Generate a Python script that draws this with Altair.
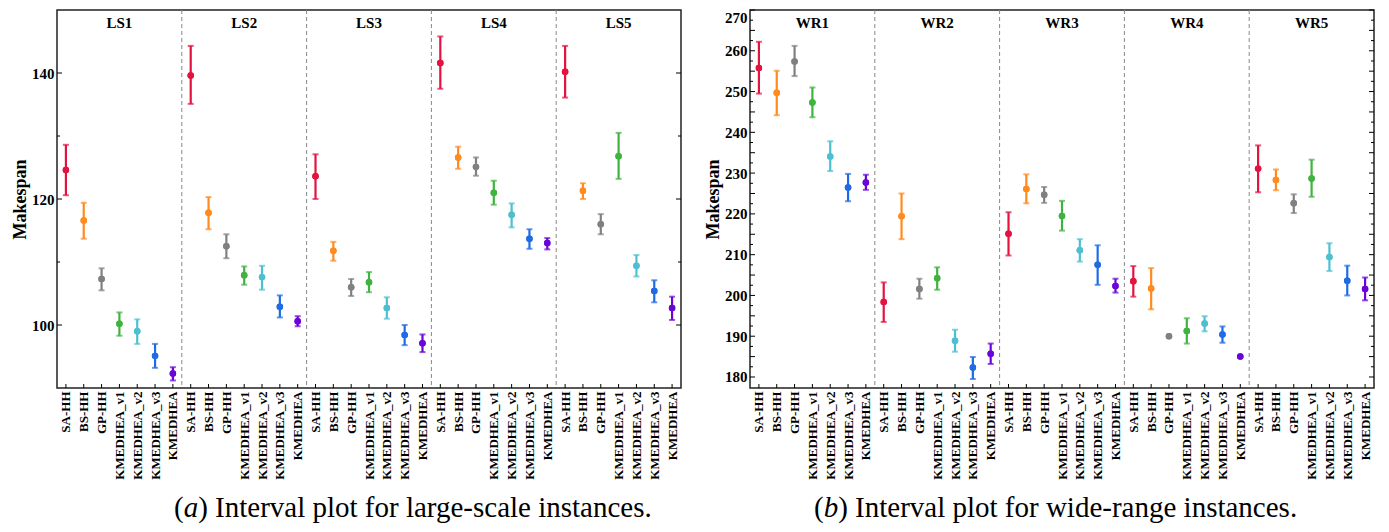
import altair as alt
import pandas as pd

methods = ["SA-HH", "BS-HH", "GP-HH", "KMEDHEA_v1", "KMEDHEA_v2", "KMEDHEA_v3", "KMEDHEA"]
colors = ["#e3123f", "#ff8a1e", "#808080", "#3fb33f", "#4cc0d0", "#1f6be6", "#6a05d8"]

ls_groups = ["LS1", "LS2", "LS3", "LS4", "LS5"]
ls_mean = [
    [124.6, 116.6, 107.3, 100.2, 99.0, 95.1, 92.3],
    [139.6, 117.8, 112.5, 107.9, 107.6, 102.9, 100.6],
    [123.6, 111.8, 106.0, 106.8, 102.7, 98.4, 97.1],
    [141.6, 126.6, 125.1, 121.0, 117.5, 113.7, 113.0],
    [140.2, 121.3, 116.0, 126.8, 109.4, 105.4, 102.7],
]
ls_low = [
    [120.6, 113.7, 105.5, 98.3, 97.0, 93.2, 91.2],
    [135.1, 115.2, 110.6, 106.4, 105.6, 101.2, 99.8],
    [120.0, 110.2, 104.6, 105.2, 101.0, 96.8, 95.7],
    [137.5, 124.8, 123.7, 119.1, 115.5, 112.1, 112.0],
    [136.1, 120.0, 114.4, 123.2, 107.7, 103.6, 100.8],
]
ls_high = [
    [128.6, 119.4, 109.0, 102.0, 100.9, 97.0, 93.3],
    [144.3, 120.3, 114.4, 109.3, 109.4, 104.7, 101.4],
    [127.1, 113.2, 107.3, 108.4, 104.4, 100.0, 98.5],
    [145.8, 128.3, 126.6, 122.9, 119.3, 115.2, 113.8],
    [144.3, 122.5, 117.6, 130.5, 111.1, 107.1, 104.5],
]

wr_groups = ["WR1", "WR2", "WR3", "WR4", "WR5"]
wr_mean = [
    [255.8, 249.7, 257.4, 247.3, 234.1, 226.5, 227.7],
    [198.4, 219.4, 201.6, 204.2, 188.9, 182.3, 185.7],
    [215.1, 226.1, 224.7, 219.5, 211.1, 207.5, 202.3],
    [203.5, 201.7, 190.0, 191.3, 193.1, 190.4, 185.0],
    [231.1, 228.3, 222.6, 228.7, 209.4, 203.6, 201.6],
]
wr_low = [
    [249.5, 244.2, 253.8, 243.7, 230.5, 223.1, 225.9],
    [193.5, 213.8, 199.2, 201.4, 186.2, 179.5, 183.2],
    [209.8, 222.6, 222.7, 215.9, 208.3, 202.6, 200.7],
    [199.7, 196.6, 190.0, 188.2, 191.2, 188.4, 185.0],
    [225.3, 225.8, 220.2, 224.2, 206.0, 200.0, 198.8],
]
wr_high = [
    [262.2, 255.1, 261.2, 251.0, 237.8, 229.8, 229.6],
    [203.2, 225.0, 204.1, 206.9, 191.6, 184.9, 188.2],
    [220.4, 229.7, 226.6, 223.2, 213.8, 212.3, 204.1],
    [207.2, 206.7, 190.0, 194.4, 194.9, 192.4, 185.0],
    [236.8, 230.9, 224.8, 233.3, 212.8, 207.3, 204.4],
]

ls_label_ticks = [100, 120, 140]
ls_major_ticks = [100, 120, 140]
ls_minor_ticks = [110, 130]
wr_label_ticks = [180, 185, 190, 195, 200, 205, 210, 215, 220, 225, 230, 235,
                  240, 245, 250, 255, 260, 265, 270]
wr_major_ticks = wr_label_ticks
wr_minor_ticks = [182.5, 187.5, 192.5, 197.5, 202.5, 207.5, 212.5, 217.5, 222.5,
                  227.5, 232.5, 237.5, 242.5, 247.5, 252.5, 257.5, 262.5, 267.5]

caption_a = ["(", "a", ") Interval plot for large-scale instances."]
caption_b = ["(", "b", ") Interval plot for wide-range instances."]

FONT = "Liberation Serif"
W, H = 624, 378
CAP_SIZE = 29
label_expr = "[" + ",".join("'%s'" % m for m in methods) + "][datum.value % 7]"


def panel(groups, mean, low, high, ydomain, label_vals, major, minor, caption, dx, flush):
    rows = []
    for g, gname in enumerate(groups):
        for m, meth in enumerate(methods):
            rows.append(dict(idx=g * 7 + m, group=gname, method=meth,
                             mean=mean[g][m], lo=low[g][m], hi=high[g][m]))
    df = pd.DataFrame(rows)
    xscale = alt.Scale(domain=[-0.5, 34.5], nice=False, zero=False)
    yscale = alt.Scale(domain=ydomain, nice=False, zero=False)
    cscale = alt.Scale(domain=methods, range=colors)

    xaxis = alt.Axis(values=list(range(35)), labelExpr=label_expr,
                     labelAngle=270, labelFont=FONT, labelFontSize=13,
                     labelFontWeight="bold", labelColor="black",
                     labelPadding=3, labelOverlap=False, ticks=False,
                     domain=False, grid=False)
    yaxis = alt.Axis(values=label_vals, ticks=False, domain=False, grid=False,
                     labelFont=FONT, labelFontSize=15, labelFontWeight="bold",
                     labelColor="black", labelPadding=3, labelFlush=flush,
                     titleFont=FONT, titleFontSize=18, titleFontWeight="bold",
                     titleColor="black", titlePadding=2)

    def X(f):
        return alt.X(f, scale=xscale, axis=xaxis, title=None)

    def Y(f):
        return alt.Y(f, scale=yscale, axis=yaxis, title="Makespan")

    base = alt.Chart(df)
    col = alt.Color("method:N", scale=cscale, legend=None)
    has_bar = "datum.hi > datum.lo"

    pts = base.mark_circle(size=42, opacity=1).encode(x=X("idx:Q"), y=Y("mean:Q"), color=col)
    bars = base.transform_filter(has_bar).mark_rule(strokeWidth=2.2).encode(
        x=X("idx:Q"), y=Y("lo:Q"), y2="hi:Q", color=col)
    cap_lo = base.transform_filter(has_bar).mark_tick(
        orient="horizontal", size=6, thickness=2).encode(x=X("idx:Q"), y=Y("lo:Q"), color=col)
    cap_hi = base.transform_filter(has_bar).mark_tick(
        orient="horizontal", size=6, thickness=2).encode(x=X("idx:Q"), y=Y("hi:Q"), color=col)

    seps = alt.Chart(pd.DataFrame({"sep": [6.5, 13.5, 20.5, 27.5]})).mark_rule(
        color="#888888", strokeWidth=1, strokeDash=[4, 3]).encode(x=X("sep:Q"))
    glabels = alt.Chart(pd.DataFrame({"gx": [3, 10, 17, 24, 31], "gname": groups})).mark_text(
        font=FONT, fontSize=15, fontWeight="bold", color="black", baseline="middle").encode(
        x=X("gx:Q"), y=alt.value(13), text="gname:N")

    tmaj = pd.DataFrame({"t": major})
    tmin = pd.DataFrame({"t": minor})
    tick_layers = []
    for tdf, ln in ((tmaj, 5), (tmin, 3)):
        tick_layers.append(alt.Chart(tdf).mark_rule(color="black", strokeWidth=1).encode(
            y=Y("t:Q"), x=alt.value(0), x2=alt.value(ln)))
        tick_layers.append(alt.Chart(tdf).mark_rule(color="black", strokeWidth=1).encode(
            y=Y("t:Q"), x=alt.value(W), x2=alt.value(W - ln)))
    bt = alt.Chart(pd.DataFrame({"b": list(range(35))})).mark_rule(
        color="black", strokeWidth=1).encode(
        x=X("b:Q"), y=alt.value(H), y2=alt.value(H - 4))

    # caption: "(" upright, letter italic, rest upright
    cap_y = H + 129
    offs = [dx, dx + 0.333 * CAP_SIZE, dx + 0.333 * CAP_SIZE + 0.5 * CAP_SIZE]
    styles = ["normal", "italic", "normal"]
    cap_layers = []
    for piece, off, sty in zip(caption, offs, styles):
        cap_layers.append(alt.Chart(pd.DataFrame({"cap": [piece]})).mark_text(
            font=FONT, fontSize=CAP_SIZE, fontStyle=sty, color="black",
            align="left", baseline="alphabetic").encode(
            text="cap:N", x=alt.value(off), y=alt.value(cap_y)))

    layered = alt.layer(pts, seps, glabels, *tick_layers, bt, bars, cap_lo, cap_hi, pts,
                        *cap_layers).properties(width=W, height=H)
    return layered


left = panel(ls_groups, ls_mean, ls_low, ls_high, [90, 150], ls_label_ticks,
             ls_major_ticks, ls_minor_ticks, caption_a, 117, False)
right = panel(wr_groups, wr_mean, wr_low, wr_high, [177.3, 270], wr_label_ticks,
              wr_major_ticks, wr_minor_ticks, caption_b, 64, True)

chart = alt.hconcat(left, right, spacing=20).properties(
    padding={"left": 2, "top": 0, "right": 0, "bottom": 0}
).configure_view(stroke="#222222", strokeWidth=1.5)

chart.save("out.html", embed_options={"renderer": "svg", "actions": False})
